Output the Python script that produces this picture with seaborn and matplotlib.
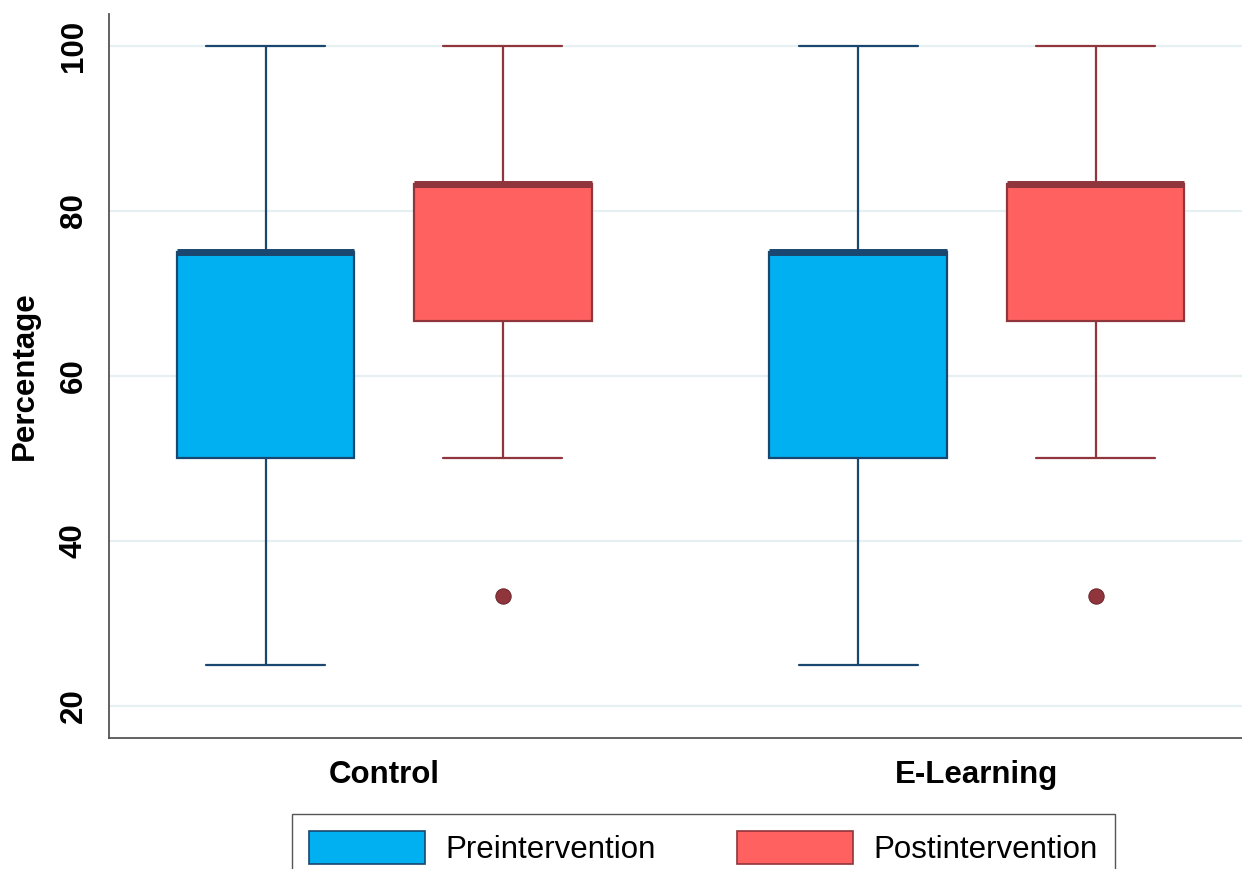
import matplotlib
matplotlib.use("Agg")
import matplotlib.pyplot as plt
from matplotlib.patches import Patch
import pandas as pd
import seaborn as sns

sns.set_theme(style="white")
plt.rcParams['font.family'] = ['Liberation Sans', 'DejaVu Sans']
plt.rcParams['text.color'] = 'black'
plt.rcParams['axes.labelcolor'] = 'black'
plt.rcParams['xtick.color'] = 'black'
plt.rcParams['ytick.color'] = 'black'

# scores (%): quartiles, whiskers and the outlier
groups = ["Control", "E-Learning"]
phases = ["Preintervention", "Postintervention"]
pre_scores = [25, 50, 50, 75, 75, 75, 75, 100]
post_scores = [33.3, 50, 66.7, 66.7, 83.3, 83.3, 83.3, 83.3, 100]

fill_colors = {"Preintervention": "#00B0F0", "Postintervention": "#FF6161"}
line_colors = {"Preintervention": "#1A476F", "Postintervention": "#90353B"}

rows = []
for g in groups:
    for v in pre_scores:
        rows.append((g, "Preintervention", v))
    for v in post_scores:
        rows.append((g, "Postintervention", v))
df = pd.DataFrame(rows, columns=["group", "phase", "score"])

fig = plt.figure(figsize=(12.42, 8.69), dpi=100)
ax = fig.add_axes([0.0878, 0.1508, 0.9122, 0.8331])

for ph in phases:
    sub = df[df["phase"] == ph]
    lc = line_colors[ph]
    sns.boxplot(data=sub, x="group", y="score", hue="phase",
                order=groups, hue_order=phases, palette=fill_colors,
                dodge=True, width=0.8, gap=0.25, linecolor=lc,
                linewidth=1.6, legend=False, ax=ax, saturation=1,
                whis=1.5, capwidths=0.2,
                medianprops=dict(color=lc, linewidth=5),
                whiskerprops=dict(color=lc, linewidth=1.6),
                capprops=dict(color=lc, linewidth=1.6),
                flierprops=dict(marker="o", markersize=11,
                                markerfacecolor=lc, markeredgecolor="#6E2A30",
                                markeredgewidth=0.8))

ax.set_xlim(-0.464, 1.447)
ax.set_ylim(16.1, 103.9)
ax.set_yticks([20, 40, 60, 80, 100])
ax.yaxis.grid(True, color="#E6EFF1", linewidth=1.6)
ax.set_axisbelow(True)

for s in ["top", "right"]:
    ax.spines[s].set_visible(False)
for s in ["left", "bottom"]:
    ax.spines[s].set_color("#555555")
    ax.spines[s].set_linewidth(1.3)

ax.tick_params(axis="y", length=8.5, width=1.0, color="#333333", pad=6,
               labelsize=22.5)
ax.tick_params(axis="x", length=0, pad=16, labelsize=22.5)
for lab in ax.get_yticklabels():
    lab.set_rotation(90)
    lab.set_va("center")
    lab.set_fontweight("bold")
for lab in ax.get_xticklabels():
    lab.set_fontweight("bold")

ax.set_xlabel("")
ax.set_ylabel("Percentage", fontsize=22.5, fontweight="bold", labelpad=14)

handles = [Patch(facecolor=fill_colors[p], edgecolor=line_colors[p], linewidth=1.2)
           for p in phases]
fig.legend(handles, phases, loc="upper center", bbox_to_anchor=(0.5664, 0.0633),
           ncol=2, frameon=True, fancybox=False, edgecolor="#555555",
           fontsize=22.5, handlelength=3.7, handleheight=1.25, columnspacing=2.6,
           handletextpad=0.67, borderpad=0.55, borderaxespad=0, framealpha=1)

fig.savefig("out.png", dpi=100)
